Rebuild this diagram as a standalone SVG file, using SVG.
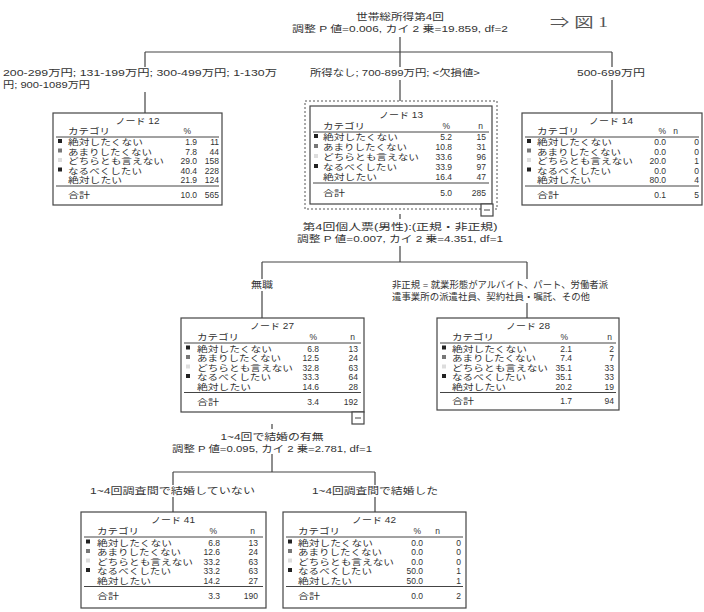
<svg xmlns="http://www.w3.org/2000/svg" width="704" height="612" viewBox="0 0 704 612">
<defs>
<style>
text{font-family:"Liberation Sans","Noto Sans CJK JP",sans-serif;font-size:8.5px;fill:#333}
.lb{font-size:9.5px}
.r{text-anchor:end}
.box{fill:#fff;stroke:#444;stroke-width:1.2}
.dot{fill:none;stroke:#555;stroke-width:1;stroke-dasharray:2 2}
.ln{stroke:#444;stroke-width:1}
.cn{stroke:#444;stroke-width:1.2;fill:none}
.b1{fill:#222}.b2{fill:#777}.b3{fill:#ddd}
.lbl{fill:#fff}
.fig{font-family:"Liberation Serif","Noto Sans CJK JP",serif;font-size:14px;fill:#555}
</style>
</defs>
<rect width="704" height="612" fill="#fff"/>
<g id="connectors">
<path class="cn" d="M400,37V101 M145,52H612 M145,52V113 M612,52V113"/>
<path class="cn" d="M400,214V262 M262,262H527 M262,262V318 M527,262V318"/>
<path class="cn" d="M272,424V472 M173,472H375 M173,472V512 M375,472V512"/>
</g>
<g id="split1">
<text class="lb" x="356" y="20" textLength="88" lengthAdjust="spacingAndGlyphs">世帯総所得第4回</text>
<text class="lb" x="292" y="32" textLength="216" lengthAdjust="spacingAndGlyphs">調整 P 値=0.006, カイ 2 乗=19.859, df=2</text>
<text class="fig" x="550" y="27" textLength="58" lengthAdjust="spacingAndGlyphs">⇒ 図 1</text>
</g>
<g id="labels1">
<rect class="lbl" x="2" y="67" width="278" height="25"/>
<text class="lb" x="3" y="76" textLength="274" lengthAdjust="spacingAndGlyphs">200-299万円; 131-199万円; 300-499万円; 1-130万</text>
<text class="lb" x="3" y="88" textLength="87" lengthAdjust="spacingAndGlyphs">円; 900-1089万円</text>
<rect class="lbl" x="308" y="67" width="175" height="13"/>
<text class="lb" x="310" y="76" textLength="170" lengthAdjust="spacingAndGlyphs">所得なし; 700-899万円; &lt;欠損値&gt;</text>
<rect class="lbl" x="575" y="67" width="72" height="13"/>
<text class="lb" x="577" y="76" textLength="68" lengthAdjust="spacingAndGlyphs">500-699万円</text>
</g>
<g id="node12">
<rect class="box" x="53" y="113" width="169" height="92"/>
<text x="115.5" y="124" textLength="44" lengthAdjust="spacingAndGlyphs">ノード 12</text>
<text x="68" y="134" textLength="42" lengthAdjust="spacingAndGlyphs">カテゴリ</text><text class="r" x="191" y="134">%</text>
<line class="ln" x1="56" y1="137" x2="219" y2="137"/>
<rect class="b1" x="58" y="139" width="4" height="4"/><text x="68" y="145" textLength="75" lengthAdjust="spacingAndGlyphs">絶対したくない</text><text class="r" x="197" y="145">1.9</text><text class="r" x="219" y="145">11</text>
<rect class="b2" x="58" y="148.5" width="4" height="4"/><text x="68" y="154.5" textLength="84" lengthAdjust="spacingAndGlyphs">あまりしたくない</text><text class="r" x="197" y="154.5">7.8</text><text class="r" x="219" y="154.5">44</text>
<rect class="b3" x="58" y="158" width="4" height="4"/><text x="68" y="164" textLength="96" lengthAdjust="spacingAndGlyphs">どちらとも言えない</text><text class="r" x="197" y="164">29.0</text><text class="r" x="219" y="164">158</text>
<rect class="b1" x="58" y="167.5" width="4" height="4"/><text x="68" y="173.5" textLength="74" lengthAdjust="spacingAndGlyphs">なるべくしたい</text><text class="r" x="197" y="173.5">40.4</text><text class="r" x="219" y="173.5">228</text>
<text x="68" y="183" textLength="54" lengthAdjust="spacingAndGlyphs">絶対したい</text><text class="r" x="197" y="183">21.9</text><text class="r" x="219" y="183">124</text>
<line class="ln" x1="56" y1="186" x2="219" y2="186"/>
<text x="68" y="198" textLength="22" lengthAdjust="spacingAndGlyphs">合計</text><text class="r" x="197" y="198">10.0</text><text class="r" x="219" y="198">565</text>
</g>
<g id="node13">
<rect class="dot" x="305" y="101" width="192" height="108"/>
<rect class="box" x="310" y="106" width="182" height="98"/>
<text x="379" y="118" textLength="44" lengthAdjust="spacingAndGlyphs">ノード 13</text>
<text x="323" y="129" textLength="42" lengthAdjust="spacingAndGlyphs">カテゴリ</text><text class="r" x="450" y="129">%</text><text class="r" x="483" y="129">n</text>
<line class="ln" x1="313" y1="132" x2="489" y2="132"/>
<rect class="b1" x="314" y="134" width="4" height="4"/><text x="323" y="140" textLength="75" lengthAdjust="spacingAndGlyphs">絶対したくない</text><text class="r" x="452" y="140">5.2</text><text class="r" x="486" y="140">15</text>
<rect class="b2" x="314" y="144" width="4" height="4"/><text x="323" y="150" textLength="84" lengthAdjust="spacingAndGlyphs">あまりしたくない</text><text class="r" x="452" y="150">10.8</text><text class="r" x="486" y="150">31</text>
<rect class="b3" x="314" y="154" width="4" height="4"/><text x="323" y="160" textLength="96" lengthAdjust="spacingAndGlyphs">どちらとも言えない</text><text class="r" x="452" y="160">33.6</text><text class="r" x="486" y="160">96</text>
<rect class="b1" x="314" y="164" width="4" height="4"/><text x="323" y="170" textLength="74" lengthAdjust="spacingAndGlyphs">なるべくしたい</text><text class="r" x="452" y="170">33.9</text><text class="r" x="486" y="170">97</text>
<text x="323" y="180" textLength="54" lengthAdjust="spacingAndGlyphs">絶対したい</text><text class="r" x="452" y="180">16.4</text><text class="r" x="486" y="180">47</text>
<line class="ln" x1="313" y1="183" x2="489" y2="183"/>
<text x="323" y="196" textLength="22" lengthAdjust="spacingAndGlyphs">合計</text><text class="r" x="452" y="196">5.0</text><text class="r" x="486" y="196">285</text>
<rect class="box" x="481" y="204" width="12" height="12"/><line class="ln" x1="484" y1="210" x2="490" y2="210"/>
</g>
<g id="node14">
<rect class="box" x="522" y="113" width="180" height="92"/>
<text x="589" y="124" textLength="44" lengthAdjust="spacingAndGlyphs">ノード 14</text>
<text x="537" y="134" textLength="42" lengthAdjust="spacingAndGlyphs">カテゴリ</text><text class="r" x="666" y="134">%</text><text class="r" x="678" y="134">n</text>
<line class="ln" x1="525" y1="137" x2="699" y2="137"/>
<rect class="b1" x="527" y="139" width="4" height="4"/><text x="537" y="145" textLength="75" lengthAdjust="spacingAndGlyphs">絶対したくない</text><text class="r" x="666" y="145">0.0</text><text class="r" x="699" y="145">0</text>
<rect class="b2" x="527" y="148.5" width="4" height="4"/><text x="537" y="154.5" textLength="84" lengthAdjust="spacingAndGlyphs">あまりしたくない</text><text class="r" x="666" y="154.5">0.0</text><text class="r" x="699" y="154.5">0</text>
<rect class="b3" x="527" y="158" width="4" height="4"/><text x="537" y="164" textLength="96" lengthAdjust="spacingAndGlyphs">どちらとも言えない</text><text class="r" x="666" y="164">20.0</text><text class="r" x="699" y="164">1</text>
<rect class="b1" x="527" y="167.5" width="4" height="4"/><text x="537" y="173.5" textLength="74" lengthAdjust="spacingAndGlyphs">なるべくしたい</text><text class="r" x="666" y="173.5">0.0</text><text class="r" x="699" y="173.5">0</text>
<text x="537" y="183" textLength="54" lengthAdjust="spacingAndGlyphs">絶対したい</text><text class="r" x="666" y="183">80.0</text><text class="r" x="699" y="183">4</text>
<line class="ln" x1="525" y1="186" x2="699" y2="186"/>
<text x="537" y="198" textLength="22" lengthAdjust="spacingAndGlyphs">合計</text><text class="r" x="666" y="198">0.1</text><text class="r" x="699" y="198">5</text>
</g>
<g id="split2">
<rect class="lbl" x="295" y="219" width="210" height="27"/>
<text class="lb" x="302.5" y="230" textLength="195" lengthAdjust="spacingAndGlyphs">第4回個人票(男性):(正規・非正規)</text>
<text class="lb" x="297" y="242" textLength="206" lengthAdjust="spacingAndGlyphs">調整 P 値=0.007, カイ 2 乗=4.351, df=1</text>
<rect class="lbl" x="249" y="279" width="26" height="12"/>
<text class="lb" x="251" y="288" textLength="22" lengthAdjust="spacingAndGlyphs">無職</text>
<rect class="lbl" x="390" y="279" width="220" height="24"/>
<text class="lb" x="392" y="288" textLength="216" lengthAdjust="spacingAndGlyphs">非正規 = 就業形態がアルバイト、パート、労働者派</text>
<text class="lb" x="392" y="300" textLength="198" lengthAdjust="spacingAndGlyphs">遣事業所の派遣社員、契約社員・嘱託、その他</text>
</g>
<g id="node27">
<rect class="box" x="181" y="318" width="183" height="94"/>
<text x="250" y="329" textLength="44" lengthAdjust="spacingAndGlyphs">ノード 27</text>
<text x="197" y="340" textLength="42" lengthAdjust="spacingAndGlyphs">カテゴリ</text><text class="r" x="317" y="340">%</text><text class="r" x="355" y="340">n</text>
<line class="ln" x1="184" y1="343" x2="361" y2="343"/>
<rect class="b1" x="186" y="345.5" width="4" height="4"/><text x="197" y="351.5" textLength="75" lengthAdjust="spacingAndGlyphs">絶対したくない</text><text class="r" x="319" y="351.5">6.8</text><text class="r" x="358" y="351.5">13</text>
<rect class="b2" x="186" y="355" width="4" height="4"/><text x="197" y="361" textLength="84" lengthAdjust="spacingAndGlyphs">あまりしたくない</text><text class="r" x="319" y="361">12.5</text><text class="r" x="358" y="361">24</text>
<rect class="b3" x="186" y="364.5" width="4" height="4"/><text x="197" y="370.5" textLength="96" lengthAdjust="spacingAndGlyphs">どちらとも言えない</text><text class="r" x="319" y="370.5">32.8</text><text class="r" x="358" y="370.5">63</text>
<rect class="b1" x="186" y="374" width="4" height="4"/><text x="197" y="380" textLength="74" lengthAdjust="spacingAndGlyphs">なるべくしたい</text><text class="r" x="319" y="380">33.3</text><text class="r" x="358" y="380">64</text>
<text x="197" y="389.5" textLength="54" lengthAdjust="spacingAndGlyphs">絶対したい</text><text class="r" x="319" y="389.5">14.6</text><text class="r" x="358" y="389.5">28</text>
<line class="ln" x1="184" y1="392.5" x2="361" y2="392.5"/>
<text x="197" y="405" textLength="22" lengthAdjust="spacingAndGlyphs">合計</text><text class="r" x="319" y="405">3.4</text><text class="r" x="358" y="405">192</text>
<rect class="box" x="352" y="412" width="12" height="12"/><line class="ln" x1="355" y1="418" x2="361" y2="418"/>
</g>
<g id="node28">
<rect class="box" x="437" y="318" width="182" height="92"/>
<text x="506" y="329" textLength="44" lengthAdjust="spacingAndGlyphs">ノード 28</text>
<text x="452" y="340" textLength="42" lengthAdjust="spacingAndGlyphs">カテゴリ</text><text class="r" x="568" y="340">%</text><text class="r" x="612" y="340">n</text>
<line class="ln" x1="440" y1="343" x2="616" y2="343"/>
<rect class="b1" x="442" y="345.5" width="4" height="4"/><text x="452" y="351.5" textLength="75" lengthAdjust="spacingAndGlyphs">絶対したくない</text><text class="r" x="572" y="351.5">2.1</text><text class="r" x="614" y="351.5">2</text>
<rect class="b2" x="442" y="355" width="4" height="4"/><text x="452" y="361" textLength="84" lengthAdjust="spacingAndGlyphs">あまりしたくない</text><text class="r" x="572" y="361">7.4</text><text class="r" x="614" y="361">7</text>
<rect class="b3" x="442" y="364.5" width="4" height="4"/><text x="452" y="370.5" textLength="96" lengthAdjust="spacingAndGlyphs">どちらとも言えない</text><text class="r" x="572" y="370.5">35.1</text><text class="r" x="614" y="370.5">33</text>
<rect class="b1" x="442" y="374" width="4" height="4"/><text x="452" y="380" textLength="74" lengthAdjust="spacingAndGlyphs">なるべくしたい</text><text class="r" x="572" y="380">35.1</text><text class="r" x="614" y="380">33</text>
<text x="452" y="389.5" textLength="54" lengthAdjust="spacingAndGlyphs">絶対したい</text><text class="r" x="572" y="389.5">20.2</text><text class="r" x="614" y="389.5">19</text>
<line class="ln" x1="440" y1="392.5" x2="616" y2="392.5"/>
<text x="452" y="404" textLength="22" lengthAdjust="spacingAndGlyphs">合計</text><text class="r" x="572" y="404">1.7</text><text class="r" x="614" y="404">94</text>
</g>
<g id="split3">
<rect class="lbl" x="168" y="429" width="208" height="25"/>
<text class="lb" x="220.5" y="440" textLength="103" lengthAdjust="spacingAndGlyphs">1~4回で結婚の有無</text>
<text class="lb" x="172" y="452" textLength="200" lengthAdjust="spacingAndGlyphs">調整 P 値=0.095, カイ 2 乗=2.781, df=1</text>
<rect class="lbl" x="88" y="485" width="169" height="12"/>
<text class="lb" x="90" y="494" textLength="165" lengthAdjust="spacingAndGlyphs">1~4回調査間で結婚していない</text>
<rect class="lbl" x="310" y="485" width="130" height="12"/>
<text class="lb" x="312" y="494" textLength="126" lengthAdjust="spacingAndGlyphs">1~4回調査間で結婚した</text>
</g>
<g id="node41">
<rect class="box" x="81" y="512" width="185" height="96"/>
<text x="151" y="523" textLength="44" lengthAdjust="spacingAndGlyphs">ノード 41</text>
<text x="97" y="534" textLength="42" lengthAdjust="spacingAndGlyphs">カテゴリ</text><text class="r" x="217" y="534">%</text><text class="r" x="255" y="534">n</text>
<line class="ln" x1="84" y1="537" x2="263" y2="537"/>
<rect class="b1" x="86" y="539.5" width="4" height="4"/><text x="97" y="545.5" textLength="75" lengthAdjust="spacingAndGlyphs">絶対したくない</text><text class="r" x="220" y="545.5">6.8</text><text class="r" x="258" y="545.5">13</text>
<rect class="b2" x="86" y="549" width="4" height="4"/><text x="97" y="555" textLength="84" lengthAdjust="spacingAndGlyphs">あまりしたくない</text><text class="r" x="220" y="555">12.6</text><text class="r" x="258" y="555">24</text>
<rect class="b3" x="86" y="558.5" width="4" height="4"/><text x="97" y="564.5" textLength="96" lengthAdjust="spacingAndGlyphs">どちらとも言えない</text><text class="r" x="220" y="564.5">33.2</text><text class="r" x="258" y="564.5">63</text>
<rect class="b1" x="86" y="568" width="4" height="4"/><text x="97" y="574" textLength="74" lengthAdjust="spacingAndGlyphs">なるべくしたい</text><text class="r" x="220" y="574">33.2</text><text class="r" x="258" y="574">63</text>
<text x="97" y="583.5" textLength="54" lengthAdjust="spacingAndGlyphs">絶対したい</text><text class="r" x="220" y="583.5">14.2</text><text class="r" x="258" y="583.5">27</text>
<line class="ln" x1="84" y1="586.5" x2="263" y2="586.5"/>
<text x="97" y="599" textLength="22" lengthAdjust="spacingAndGlyphs">合計</text><text class="r" x="220" y="599">3.3</text><text class="r" x="258" y="599">190</text>
</g>
<g id="node42">
<rect class="box" x="283" y="512" width="183" height="96"/>
<text x="352" y="523" textLength="44" lengthAdjust="spacingAndGlyphs">ノード 42</text>
<text x="298" y="534" textLength="42" lengthAdjust="spacingAndGlyphs">カテゴリ</text><text class="r" x="421" y="534">%</text><text class="r" x="440" y="534">n</text>
<line class="ln" x1="286" y1="537" x2="463" y2="537"/>
<rect class="b1" x="288" y="539.5" width="4" height="4"/><text x="298" y="545.5" textLength="75" lengthAdjust="spacingAndGlyphs">絶対したくない</text><text class="r" x="423" y="545.5">0.0</text><text class="r" x="461" y="545.5">0</text>
<rect class="b2" x="288" y="549" width="4" height="4"/><text x="298" y="555" textLength="84" lengthAdjust="spacingAndGlyphs">あまりしたくない</text><text class="r" x="423" y="555">0.0</text><text class="r" x="461" y="555">0</text>
<rect class="b3" x="288" y="558.5" width="4" height="4"/><text x="298" y="564.5" textLength="96" lengthAdjust="spacingAndGlyphs">どちらとも言えない</text><text class="r" x="423" y="564.5">0.0</text><text class="r" x="461" y="564.5">0</text>
<rect class="b1" x="288" y="568" width="4" height="4"/><text x="298" y="574" textLength="74" lengthAdjust="spacingAndGlyphs">なるべくしたい</text><text class="r" x="423" y="574">50.0</text><text class="r" x="461" y="574">1</text>
<text x="298" y="583.5" textLength="54" lengthAdjust="spacingAndGlyphs">絶対したい</text><text class="r" x="423" y="583.5">50.0</text><text class="r" x="461" y="583.5">1</text>
<line class="ln" x1="286" y1="586.5" x2="463" y2="586.5"/>
<text x="298" y="599" textLength="22" lengthAdjust="spacingAndGlyphs">合計</text><text class="r" x="423" y="599">0.0</text><text class="r" x="461" y="599">2</text>
</g>
</svg>
